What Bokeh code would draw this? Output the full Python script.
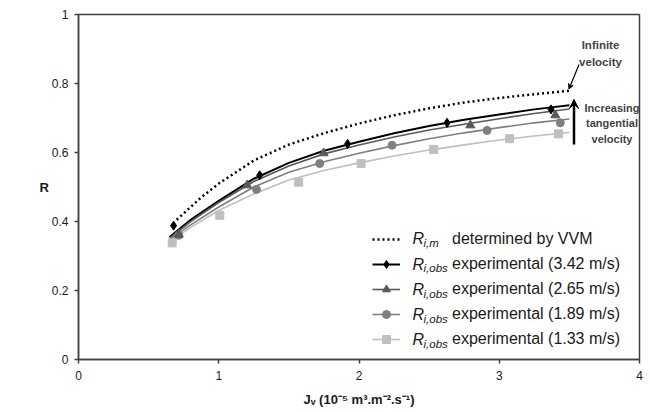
from bokeh.plotting import figure
from bokeh.models import (Range1d, FixedTicker, NumeralTickFormatter, Legend, LegendItem,
                          Label, Arrow, VeeHead)
from bokeh.embed import file_html
from bokeh.resources import INLINE

# ---------------- data ----------------
x_ticks = [0, 1, 2, 3, 4]
y_ticks = [0, 0.2, 0.4, 0.6, 0.8, 1.0]

# fitted curves
fit_x = [0.65, 0.8, 1.0, 1.25, 1.5, 1.75, 2.0, 2.25, 2.5, 2.75, 3.0, 3.25, 3.5]
fit_342 = [0.355, 0.405, 0.460, 0.524, 0.570, 0.605, 0.631, 0.656, 0.677, 0.695, 0.710, 0.725, 0.737]
fit_265 = [0.352, 0.400, 0.455, 0.516, 0.561, 0.596, 0.622, 0.645, 0.665, 0.682, 0.698, 0.713, 0.726]
fit_189 = [0.348, 0.390, 0.442, 0.500, 0.543, 0.573, 0.598, 0.620, 0.640, 0.657, 0.672, 0.686, 0.697]
fit_133 = [0.342, 0.383, 0.432, 0.480, 0.520, 0.548, 0.570, 0.590, 0.607, 0.622, 0.636, 0.648, 0.658]

# VVM (infinite velocity)
vvm_x = [0.70, 0.87, 1.0, 1.25, 1.5, 1.75, 2.0, 2.25, 2.5, 2.75, 3.0, 3.25, 3.5]
vvm_y = [0.405, 0.468, 0.510, 0.577, 0.623, 0.656, 0.684, 0.708, 0.728, 0.745, 0.758, 0.769, 0.779]

# experimental points
obs_342_x = [0.678, 1.292, 1.919, 2.628, 3.369]
obs_342_y = [0.388, 0.534, 0.625, 0.686, 0.725]
obs_265_x = [0.715, 1.202, 1.748, 2.794, 3.400]
obs_265_y = [0.362, 0.505, 0.598, 0.679, 0.708]
obs_189_x = [0.715, 1.269, 1.720, 2.236, 2.913, 3.435]
obs_189_y = [0.360, 0.493, 0.568, 0.621, 0.664, 0.686]
obs_133_x = [0.668, 1.007, 1.570, 2.015, 2.532, 3.074, 3.423]
obs_133_y = [0.338, 0.418, 0.514, 0.568, 0.609, 0.640, 0.654]

legend_rest = ["determined by VVM",
               "experimental (3.42 m/s)",
               "experimental (2.65 m/s)",
               "experimental (1.89 m/s)",
               "experimental (1.33 m/s)"]
legend_sub = ["i,m", "i,obs", "i,obs", "i,obs", "i,obs"]

# ---------------- figure ----------------
FONT = "Liberation Sans"
p = figure(width=648, height=410, output_backend="svg", toolbar_location=None,
           x_range=Range1d(0, 4), y_range=Range1d(0, 1),
           min_border_left=78, min_border_right=9, min_border_top=14, min_border_bottom=51)
p.background_fill_color = "white"
p.border_fill_color = "white"
p.outline_line_color = "#404040"
p.outline_line_width = 1.5
p.xgrid.visible = False
p.ygrid.visible = False

for ax in (p.xaxis[0], p.yaxis[0]):
    ax.axis_line_color = "#404040"
    ax.axis_line_width = 1.5
    ax.major_tick_line_color = "#404040"
    ax.major_tick_line_width = 1.5
    ax.major_tick_in = 0
    ax.major_tick_out = 4
    ax.minor_tick_line_color = None
    ax.major_label_text_font = FONT
    ax.major_label_text_font_size = "12px"
    ax.major_label_text_color = "#1a1a1a"
    ax.axis_label_text_font = FONT
    ax.axis_label_text_font_style = "bold"
    ax.axis_label_text_font_size = "13px"
    ax.axis_label_text_color = "#1a1a1a"

p.xaxis.ticker = FixedTicker(ticks=x_ticks)
p.yaxis.ticker = FixedTicker(ticks=y_ticks)
p.xaxis.formatter = NumeralTickFormatter(format="0.[0]")
p.yaxis.formatter = NumeralTickFormatter(format="0.[0]")
p.xaxis.major_label_standoff = 7
p.yaxis.major_label_standoff = 6
p.xaxis.axis_label = "Jᵥ (10⁻⁵ m³.m⁻².s⁻¹)"
p.xaxis.axis_label_standoff = 9
p.yaxis.axis_label = "R"
p.yaxis.axis_label_standoff = 0
p.yaxis.axis_label_orientation = "horizontal"

BLACK = "#000000"
DGREY = "#595959"
GREY = "#7f7f7f"
LGREY = "#bfbfbf"

r_vvm = p.line(vvm_x, vvm_y, line_color=BLACK, line_width=2.5, line_dash="2 3")

l1 = p.line(fit_x, fit_342, line_color=BLACK, line_width=2)
l2 = p.line(fit_x, fit_265, line_color=DGREY, line_width=1.6)
l3 = p.line(fit_x, fit_189, line_color=GREY, line_width=1.6)
l4 = p.line(fit_x, fit_133, line_color=LGREY, line_width=1.6)

m4 = p.scatter(obs_133_x, obs_133_y, marker="square", size=8, fill_color=LGREY, line_color=LGREY)
m3 = p.scatter(obs_189_x, obs_189_y, marker="circle", size=8, fill_color=GREY, line_color=GREY)
m2 = p.scatter(obs_265_x, obs_265_y, marker="triangle", size=9, fill_color=DGREY, line_color=DGREY)
m1 = p.scatter(obs_342_x, obs_342_y, marker="diamond", size=9, fill_color=BLACK, line_color=BLACK)

items = [LegendItem(label=legend_rest[0], renderers=[r_vvm]),
         LegendItem(label=legend_rest[1], renderers=[l1, m1]),
         LegendItem(label=legend_rest[2], renderers=[l2, m2]),
         LegendItem(label=legend_rest[3], renderers=[l3, m3]),
         LegendItem(label=legend_rest[4], renderers=[l4, m4])]
leg = Legend(items=items, location=(294, 10), padding=0, margin=0, spacing=5,
             glyph_width=28, glyph_height=20, label_height=20, label_standoff=52,
             border_line_color=None, background_fill_alpha=0,
             label_text_font=FONT, label_text_font_size="16px", label_text_color="#1a1a1a")
p.add_layout(leg)

# --- pixel -> data helpers for annotation placement ---
def dx(px):
    return (px - 78) / 140.25

def dy(py):
    return (359 - py) / 345.0

# italic R with subscript in the legend
item_centers = [238, 263.5, 289, 314, 339]
for sub, cy in zip(legend_sub, item_centers):
    p.add_layout(Label(x=dx(412), y=dy(cy), text="R", text_font=FONT, text_font_style="italic",
                       text_font_size="16px", text_baseline="middle", text_color="#1a1a1a"))
    p.add_layout(Label(x=dx(423), y=dy(cy + 4), text=sub, text_font=FONT, text_font_style="italic",
                       text_font_size="11.5px", text_baseline="middle", text_color="#1a1a1a"))

# --- annotations ---
for txt, cy in (("Infinite", 44), ("velocity", 61)):
    p.add_layout(Label(x=dx(600), y=dy(cy), text=txt, text_font=FONT, text_font_style="bold",
                       text_font_size="11.5px", text_align="center", text_baseline="middle"))
for txt, cy in (("Increasing", 107), ("tangential", 122.5), ("velocity", 138)):
    p.add_layout(Label(x=dx(611.5), y=dy(cy), text=txt, text_font=FONT, text_font_style="bold",
                       text_font_size="11px", text_align="center", text_baseline="middle"))

p.add_layout(Arrow(x_start=dx(578.5), y_start=dy(64), x_end=dx(568.5), y_end=dy(88.5),
                   line_width=1.2, line_color="black",
                   end=VeeHead(size=5, fill_color="black", line_color="black")))
p.add_layout(Arrow(x_start=dx(573.5), y_start=dy(144), x_end=dx(573.5), y_end=dy(99),
                   line_width=2.5, line_color="black",
                   end=VeeHead(size=9, fill_color="black", line_color="black")))

open("out.html", "w").write(file_html(p, INLINE))
